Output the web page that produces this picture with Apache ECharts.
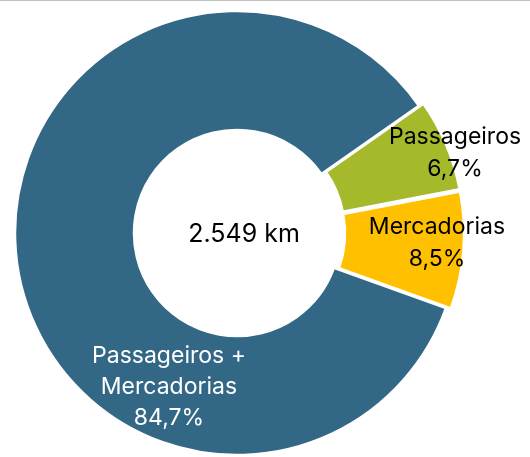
<!DOCTYPE html>
<html>
<head>
<meta charset="utf-8">
<script src="https://cdn.jsdelivr.net/npm/echarts@6/dist/echarts.min.js"></script>
<style>
  html, body { margin: 0; padding: 0; background: #fff; }
  #topline { position: absolute; left: 0; top: 0; width: 530px; height: 1px; background: #bfbfbf; }
  #chart { width: 530px; height: 457px; }
</style>
</head>
<body>
<div id="chart"></div>
<div id="topline"></div>
<script>
// Network length split by type of traffic
const categories = ['Passageiros', 'Mercadorias', 'Passageiros +\nMercadorias'];
const shares = [6.7, 8.5, 84.7];
const colors = ['#A6B92B', '#FFC000', '#326885'];
const labelColors = ['#000000', '#000000', '#ffffff'];
const exploded = [true, true, false];
const labelOffsets = [[61, -13], [30, -3], [96, 132]];
const totalLabel = '2.549 km';

const FONT = 'Inter, "Noto Sans", sans-serif';
const chart = echarts.init(document.getElementById('chart'), null, { renderer: 'canvas' });

const fmt = v => v.toFixed(1).replace('.', ',') + '%';

chart.setOption({
  animation: false,
  graphic: [{
    type: 'text',
    x: 244,
    y: 234,
    style: { text: totalLabel, font: '25px ' + FONT, fill: '#000', align: 'center', verticalAlign: 'middle' }
  }],
  series: [{
    type: 'pie',
    center: [237, 233],
    radius: [103, 222],
    startAngle: 35,
    clockwise: true,
    selectedMode: 'multiple',
    selectedOffset: 5,
    avoidLabelOverlap: false,
    itemStyle: { borderColor: '#ffffff', borderWidth: 2.5 },
    emphasis: { disabled: true },
    label: {
      show: true,
      position: 'inside',
      fontFamily: FONT,
      fontSize: 23,
      lineHeight: 32,
      align: 'center',
      formatter: p => p.name + '\n' + fmt(p.value)
    },
    labelLine: { show: false },
    labelLayout: p => ({ dx: labelOffsets[p.dataIndex][0], dy: labelOffsets[p.dataIndex][1] }),
    data: categories.map((name, i) => ({
      name: name,
      value: shares[i],
      selected: exploded[i],
      itemStyle: { color: colors[i] },
      select: { itemStyle: { color: colors[i] } },
      label: { color: labelColors[i], lineHeight: i === 2 ? 31 : 32 }
    }))
  }]
});
</script>
</body>
</html>
